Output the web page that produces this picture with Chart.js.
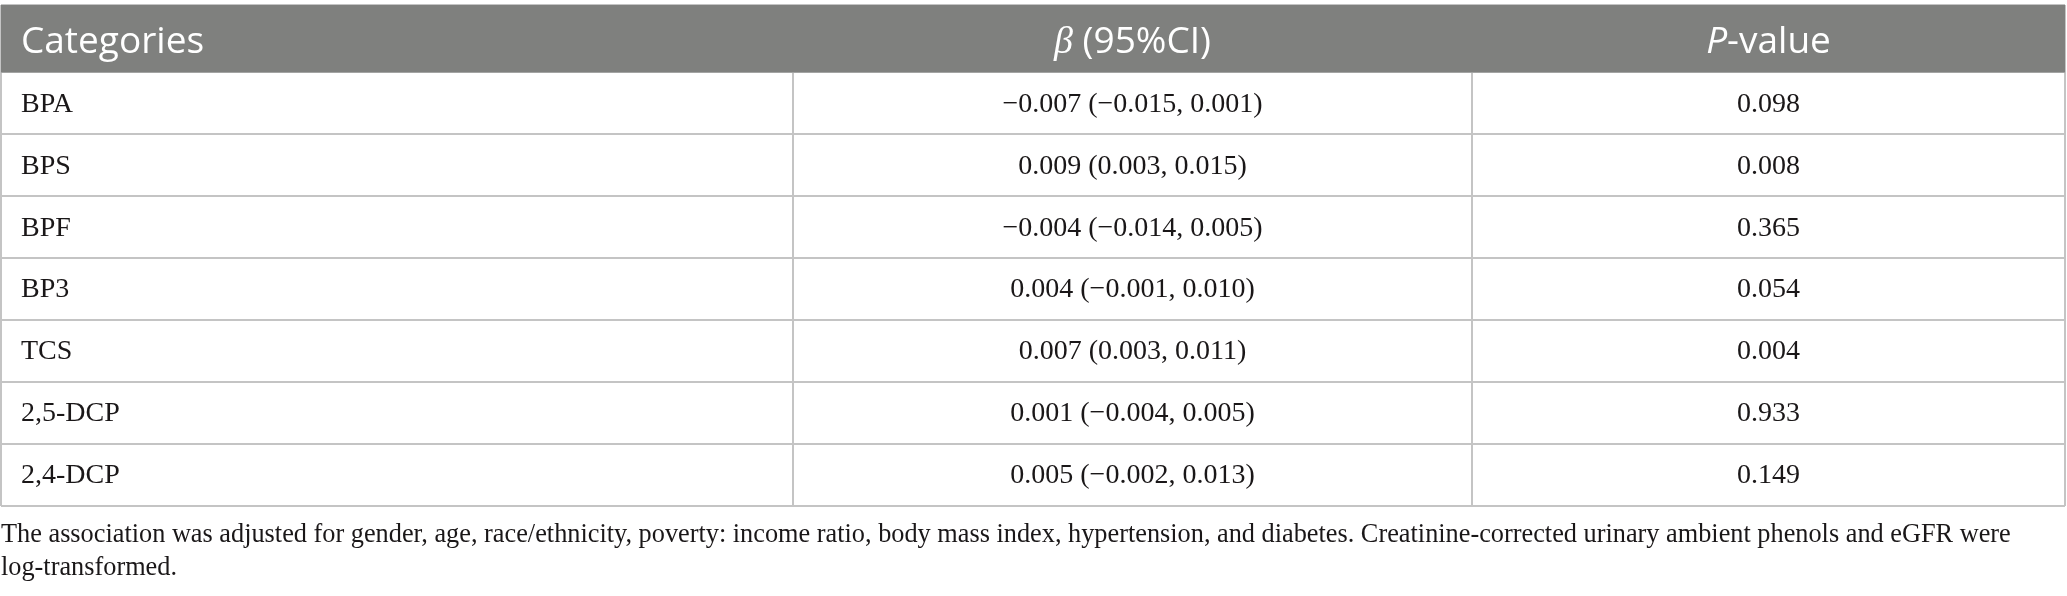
<!DOCTYPE html>
<html>
<head>
<meta charset="utf-8">
<script src="https://cdn.jsdelivr.net/npm/chart.js@4.4.0/dist/chart.umd.min.js"></script>
<style>
  html, body { margin: 0; padding: 0; background: #fff; }
  #wrap { width: 2067px; height: 596px; position: relative; }
</style>
</head>
<body>
<div id="wrap"><canvas id="tbl"></canvas></div>
<script>
// table data
const headers = ['Categories', 'β (95%CI)', 'P-value'];
const categories = ['BPA', 'BPS', 'BPF', 'BP3', 'TCS', '2,5-DCP', '2,4-DCP'];
const beta = [-0.007, 0.009, -0.004, 0.004, 0.007, 0.001, 0.005];
const ciLow = [-0.015, 0.003, -0.014, -0.001, 0.003, -0.004, -0.002];
const ciHigh = [0.001, 0.015, 0.005, 0.010, 0.011, 0.005, 0.013];
const pValues = [0.098, 0.008, 0.365, 0.054, 0.004, 0.933, 0.149];
const footnote = [
  'The association was adjusted for gender, age, race/ethnicity, poverty: income ratio, body mass index, hypertension, and diabetes. Creatinine-corrected urinary ambient phenols and eGFR were',
  'log-transformed.'
];

// layout: column edges in x units, header row is a bit taller than body rows
const colEdges = [0, 792, 1471, 2064];
const headerTop = -1.09;
const rowEdges = [headerTop].concat(categories.map((c, i) => i), [categories.length]);

const SANS = '"Open Sans", "Noto Sans", sans-serif';
const SERIF = '"Liberation Serif", "DejaVu Serif", serif';
const fmt = v => (v < 0 ? '\u2212' : '') + Math.abs(v).toFixed(3);

// draw a list of [text, font] runs centred (or left aligned) at x
function drawRuns(ctx, runs, x, y, align) {
  let w = 0;
  runs.forEach(r => { ctx.font = r[1]; w += ctx.measureText(r[0]).width; });
  let cx = align === 'left' ? x : x - w / 2;
  runs.forEach(r => { ctx.font = r[1]; ctx.textAlign = 'left'; ctx.fillText(r[0], cx, y); cx += ctx.measureText(r[0]).width; });
}

const tablePlugin = {
  id: 'tablePlugin',
  beforeDatasetsDraw(chart) {
    const { ctx, scales: { x, y } } = chart;
    ctx.save();
    ctx.fillStyle = '#7f807e';
    const top = y.getPixelForValue(headerTop), bot = y.getPixelForValue(0);
    ctx.fillRect(x.getPixelForValue(colEdges[0]), top, x.getPixelForValue(colEdges[3]) - x.getPixelForValue(colEdges[0]), bot - top);
    ctx.restore();
  },
  afterDraw(chart) {
    const { ctx, scales: { x, y } } = chart;
    ctx.save();
    ctx.textBaseline = 'middle';
    const left = x.getPixelForValue(colEdges[0]) + 20;
    const mid1 = x.getPixelForValue((colEdges[1] + colEdges[2]) / 2);
    const mid2 = x.getPixelForValue((colEdges[2] + colEdges[3]) / 2);
    // header
    const hy = y.getPixelForValue(headerTop / 2) + 4;
    ctx.fillStyle = '#ffffff';
    const hf = '37px ' + SANS, hfi = 'italic 38px ' + SERIF, hsi = 'italic 37px ' + SANS;
    drawRuns(ctx, [[headers[0], hf]], left, hy, 'left');
    drawRuns(ctx, [['β', hfi], [' (95%CI)', hf]], mid1, hy);
    drawRuns(ctx, [['P', hsi], ['-value', hf]], mid2, hy);
    // body
    ctx.fillStyle = '#1a1718';
    const bf = '28px ' + SERIF;
    categories.forEach((c, i) => {
      const ry = y.getPixelForValue(i + 0.5) + 1;
      drawRuns(ctx, [[c, bf]], left, ry, 'left');
      drawRuns(ctx, [[fmt(beta[i]) + ' (' + fmt(ciLow[i]) + ', ' + fmt(ciHigh[i]) + ')', bf]], mid1, ry);
      drawRuns(ctx, [[pValues[i].toFixed(3), bf]], mid2, ry);
    });
    ctx.restore();
  }
};

new Chart(document.getElementById('tbl').getContext('2d'), {
  type: 'scatter',
  data: { datasets: [] },
  options: {
    responsive: true,
    maintainAspectRatio: false,
    animation: false,
    layout: { padding: { left: 1, right: 2, top: 5, bottom: 0 } },
    plugins: {
      legend: { display: false },
      tooltip: { enabled: false },
      title: {
        display: true, position: 'bottom', align: 'start', text: footnote, color: '#1a1718',
        font: { family: SERIF, size: 26.3, weight: 'normal', lineHeight: 1.26 },
        padding: { top: 13, bottom: 11 }
      }
    },
    scales: {
      x: {
        type: 'linear', min: colEdges[0], max: colEdges[3], z: 1,
        afterBuildTicks: s => { s.ticks = colEdges.map(v => ({ value: v })); },
        ticks: { display: false },
        grid: { color: '#c4c4c4', lineWidth: 2, drawTicks: false },
        border: { display: false }
      },
      y: {
        type: 'linear', reverse: true, min: headerTop, max: categories.length,
        afterBuildTicks: s => { s.ticks = rowEdges.map(v => ({ value: v })); },
        ticks: { display: false },
        grid: { color: '#c4c4c4', lineWidth: 2, drawTicks: false },
        border: { display: false }
      }
    }
  },
  plugins: [tablePlugin]
});
</script>
</body>
</html>
